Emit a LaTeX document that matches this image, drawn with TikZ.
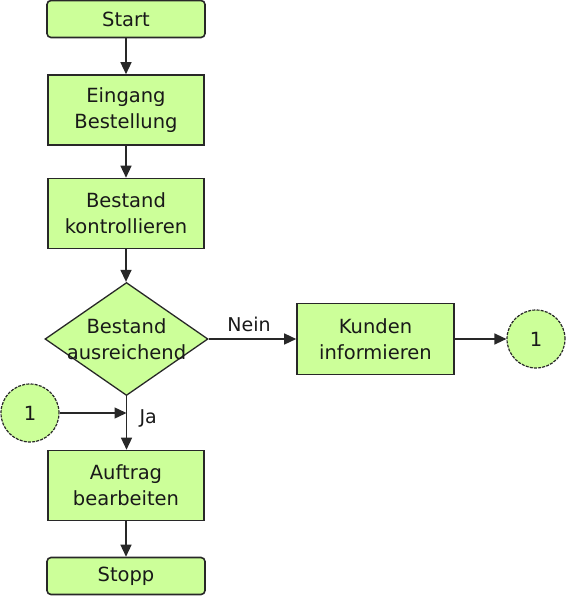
\documentclass[tikz,border=0pt]{standalone}
\usepackage{fontspec}
\setmainfont{DejaVu Sans}
\usetikzlibrary{arrows.meta,shapes.geometric}
\definecolor{boxfill}{RGB}{204,255,153}
\definecolor{edge}{RGB}{40,40,40}
\definecolor{txt}{RGB}{25,25,25}
\tikzset{
  x=1pt,y=1pt,
  every node/.style={font=\fontsize{19.5}{26}\selectfont, text=txt, align=center},
  procbox/.style={draw=edge, line width=1.6pt, fill=boxfill, minimum width=156pt, minimum height=70pt, inner sep=0pt},
  termbox/.style={draw=edge, line width=1.6pt, fill=boxfill, rounded corners=4pt, minimum width=158pt, minimum height=37pt, inner sep=0pt},
  decbox/.style={draw=edge, line width=1.3pt, fill=boxfill, diamond, minimum width=163pt, minimum height=113pt, inner sep=0pt},
  conn/.style={circle, draw=edge, line width=1.2pt, dash pattern=on 3pt off 1.2pt, fill=boxfill, minimum size=58pt, inner sep=0pt},
  flow/.style={draw=edge, line width=1.4pt, -{Triangle[length=12pt,width=11pt]}},
  lbl/.style={font=\fontsize{19}{22}\selectfont}
}
\begin{document}
\begin{tikzpicture}
\useasboundingbox (0,0) rectangle (567,-596);
\node[termbox] (start) at (126,-19) {Start};
\node[procbox] (eingang) at (126,-110) {Eingang\\Bestellung};
\node[procbox] (kontr) at (126,-213.5) {Bestand\\kontrollieren};
\node[decbox] (dec) at (126.5,-339) {};
\node (dectext) at (126.5,-339) {Bestand\\ausreichend};
\node[procbox, minimum width=157pt, minimum height=71pt] (kunden) at (375.5,-339) {Kunden\\informieren};
\node[conn] (cright) at (536,-339) {1};
\node[conn] (cleft) at (30,-413) {1};
\node[procbox] (auftrag) at (126,-485.5) {Auftrag\\bearbeiten};
\node[termbox] (stopp) at (126,-576) {Stopp};
\coordinate (join) at (126.5,-413);
\draw[flow] (start) -- (eingang);
\draw[flow] (eingang) -- (kontr);
\draw[flow] (kontr.south) -- (kontr.south |- dec.north);
\draw[flow] (dec.east) -- (kunden.west);
\node[lbl] (nein) at (249,-324) {Nein};
\draw[flow] (kunden.east) -- (cright.west);
\draw[flow] (cleft.east) -- (join);
\draw[flow] (dec.south) -- (dec.south |- auftrag.north);
\node[lbl, anchor=west] (ja) at (136,-418) {Ja};
\draw[flow] (auftrag) -- (stopp);
\end{tikzpicture}
\end{document}
